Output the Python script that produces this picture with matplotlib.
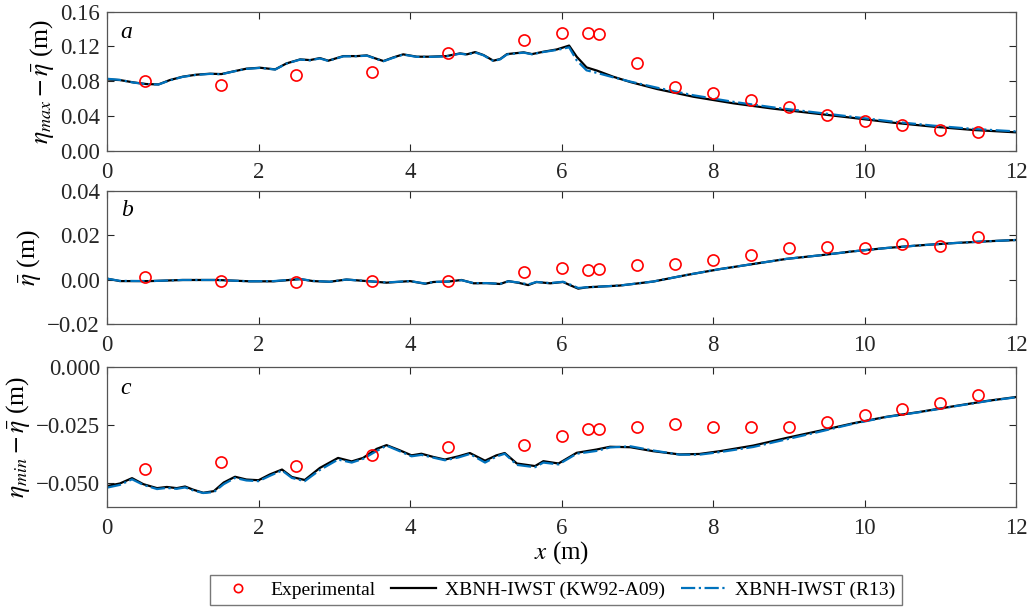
import matplotlib
matplotlib.use("Agg")
import matplotlib.pyplot as plt
from matplotlib.lines import Line2D

plt.rcParams["font.family"] = ["Liberation Serif", "DejaVu Serif"]
plt.rcParams["mathtext.fontset"] = "stix"

# experimental gauge positions (m)
x_exp = [0.5, 1.5, 2.5, 3.5, 4.5, 5.5, 6.0, 6.35, 6.5, 7.0, 7.5, 8.0, 8.5,
         9.0, 9.5, 10.0, 10.5, 11.0, 11.5]

# panel a: eta_max - mean
exp_a = [0.0806, 0.0753, 0.0868, 0.0902, 0.112, 0.1274, 0.1358, 0.1351, 0.1346,
         0.1009, 0.0736, 0.0667, 0.0583, 0.0503, 0.0414, 0.0345, 0.0296, 0.0238, 0.0212]
x_a = [0, 0.17, 0.35, 0.52, 0.68, 0.83, 1.0, 1.18, 1.36, 1.51, 1.67, 1.84, 2.02,
       2.22, 2.37, 2.55, 2.68, 2.81, 2.92, 3.12, 3.30, 3.43, 3.54, 3.65, 3.78,
       3.91, 4.09, 4.26, 4.48, 4.66, 4.75, 4.86, 4.97, 5.10, 5.19, 5.28, 5.50,
       5.61, 5.76, 5.94, 6.10, 6.20, 6.33, 6.47, 6.68, 6.91, 7.26, 7.74, 8.27,
       8.80, 9.33, 9.86, 10.38, 10.91, 11.44, 12.0]
kw_a = [0.0820, 0.0813, 0.0786, 0.0767, 0.0763, 0.0813, 0.0852, 0.0875, 0.0886,
        0.0882, 0.0913, 0.0944, 0.0955, 0.0936, 0.1005, 0.1051, 0.1043, 0.1066,
        0.1036, 0.1089, 0.1089, 0.1097, 0.1063, 0.1032, 0.1074, 0.1109, 0.1082,
        0.1082, 0.1089, 0.1120, 0.1109, 0.1135, 0.1101, 0.1036, 0.1055, 0.1112,
        0.1132, 0.1112, 0.1139, 0.1166, 0.1210, 0.1082, 0.0959, 0.0921, 0.0852,
        0.0790, 0.0710, 0.0621, 0.0545, 0.0483, 0.0430, 0.0376, 0.0322, 0.0276,
        0.0238, 0.0211]
r13_a = [0.0828, 0.0815, 0.0784, 0.0765, 0.0762, 0.0810, 0.0850, 0.0873, 0.0884,
         0.0880, 0.0912, 0.0942, 0.0953, 0.0934, 0.1003, 0.1049, 0.1040, 0.1062,
         0.1034, 0.1086, 0.1087, 0.1094, 0.1060, 0.1030, 0.1070, 0.1106, 0.1080,
         0.1080, 0.1086, 0.1117, 0.1106, 0.1131, 0.1098, 0.1032, 0.1052, 0.1108,
         0.1129, 0.1110, 0.1136, 0.1160, 0.1190, 0.1040, 0.0925, 0.0895, 0.0845,
         0.0795, 0.0725, 0.0638, 0.0562, 0.0498, 0.0443, 0.0388, 0.0334, 0.0288,
         0.0250, 0.0222]

# panel b: mean water level
exp_b = [0.0013, -0.0005, -0.0011, -0.0008, -0.0005, 0.0036, 0.0053, 0.0043, 0.0048,
         0.0064, 0.0070, 0.0089, 0.0112, 0.0140, 0.0148, 0.0142, 0.0161, 0.0150, 0.0192]
x_b = [0, 0.17, 0.57, 1.0, 1.45, 1.89, 2.2, 2.55, 2.72, 2.94, 3.16, 3.43, 3.69,
       4.0, 4.2, 4.31, 4.51, 4.68, 4.84, 5.01, 5.19, 5.30, 5.45, 5.56, 5.67,
       5.85, 6.02, 6.11, 6.22, 6.33, 6.77, 7.21, 7.66, 8.09, 8.53, 8.97, 9.41,
       9.85, 10.29, 10.73, 11.17, 11.61, 12.0]
kw_b = [0.0004, -0.0007, -0.0007, -0.0002, -0.0002, -0.0008, -0.0008, 0.0002,
        -0.0007, -0.0010, 0.0000, -0.0007, -0.0014, -0.0007, -0.0019, -0.0011,
        -0.0009, -0.0002, -0.0017, -0.0016, -0.0020, -0.0007, -0.0016, -0.0025,
        -0.0011, -0.0017, -0.0011, -0.0025, -0.0041, -0.0035, -0.0027, -0.0009,
        0.0021, 0.0047, 0.0070, 0.0093, 0.0109, 0.0127, 0.0142, 0.0154, 0.0164,
        0.0172, 0.0178]
r13_b = [0.0004, -0.0006, -0.0007, -0.0002, -0.0002, -0.0008, -0.0007, 0.0002,
         -0.0006, -0.0010, 0.0000, -0.0007, -0.0013, -0.0007, -0.0018, -0.0011,
         -0.0009, -0.0003, -0.0016, -0.0016, -0.0019, -0.0008, -0.0014, -0.0022,
         -0.0011, -0.0016, -0.0010, -0.0022, -0.0038, -0.0035, -0.0027, -0.0009,
         0.0021, 0.0047, 0.0070, 0.0093, 0.0109, 0.0127, 0.0142, 0.0154, 0.0164,
         0.0172, 0.0178]

# panel c: eta_min - mean
exp_c = [-0.0436, -0.0408, -0.0423, -0.0378, -0.0345, -0.0334, -0.0294, -0.0265, -0.0265,
         -0.0256, -0.0243, -0.0256, -0.0256, -0.0256, -0.0236, -0.0207, -0.0179, -0.0155, -0.0120]
x_c = [0, 0.17, 0.33, 0.48, 0.66, 0.79, 0.92, 1.03, 1.14, 1.27, 1.41, 1.54, 1.69,
       1.84, 2.0, 2.15, 2.31, 2.44, 2.61, 2.81, 3.05, 3.23, 3.38, 3.56, 3.69,
       3.87, 4.02, 4.15, 4.31, 4.46, 4.64, 4.79, 4.99, 5.14, 5.25, 5.41, 5.65,
       5.76, 5.96, 6.2, 6.46, 6.64, 6.91, 7.21, 7.56, 7.82, 8.09, 8.53, 8.97,
       9.41, 9.85, 10.29, 10.73, 11.17, 11.61, 12.0]
kw_c = [-0.0511, -0.0500, -0.0477, -0.0503, -0.0520, -0.0515, -0.0520, -0.0513,
        -0.0527, -0.0540, -0.0533, -0.0496, -0.0471, -0.0483, -0.0486, -0.0461,
        -0.0440, -0.0472, -0.0485, -0.0433, -0.0390, -0.0405, -0.0390, -0.0351,
        -0.0335, -0.0358, -0.0379, -0.0372, -0.0386, -0.0397, -0.0383, -0.0369,
        -0.0402, -0.0379, -0.0369, -0.0414, -0.0425, -0.0404, -0.0414, -0.0368,
        -0.0354, -0.0342, -0.0344, -0.0361, -0.0375, -0.0373, -0.0361, -0.0337,
        -0.0304, -0.0273, -0.0241, -0.0213, -0.0192, -0.0168, -0.0145, -0.0128]
r13_c = [-0.0518, -0.0506, -0.0482, -0.0506, -0.0524, -0.0519, -0.0523, -0.0517,
         -0.0530, -0.0541, -0.0537, -0.0503, -0.0476, -0.0487, -0.0490, -0.0467,
         -0.0444, -0.0476, -0.0490, -0.0442, -0.0397, -0.0410, -0.0394, -0.0360,
         -0.0337, -0.0362, -0.0383, -0.0377, -0.0389, -0.0400, -0.0388, -0.0373,
         -0.0410, -0.0384, -0.0372, -0.0420, -0.0430, -0.0410, -0.0418, -0.0372,
         -0.0360, -0.0345, -0.0340, -0.0358, -0.0376, -0.0376, -0.0365, -0.0343,
         -0.0310, -0.0277, -0.0243, -0.0214, -0.0193, -0.0169, -0.0146, -0.0129]

panels = [
    ("a", x_a, kw_a, r13_a, exp_a, (0, 0.16), [0, 0.04, 0.08, 0.12, 0.16], "%.2f",
     r"$\eta_{max}-\bar{\eta}$ (m)"),
    ("b", x_b, kw_b, r13_b, exp_b, (-0.02, 0.04), [-0.02, 0, 0.02, 0.04], "%.2f",
     r"$\bar{\eta}$ (m)"),
    ("c", x_c, kw_c, r13_c, exp_c, (-0.06, 0), [-0.05, -0.025, 0], "%.3f",
     r"$\eta_{min}-\bar{\eta}$ (m)"),
]

blue = "#0072BD"
fig = plt.figure(figsize=(10.35, 6.1), dpi=100)
boxes = [(0.1034, 0.753, 0.8783, 0.2278),
         (0.1034, 0.4689, 0.8783, 0.2185),
         (0.1034, 0.1693, 0.8783, 0.2286)]

for (tag, xm, kw, r13, ex, ylim, yt, fmt, ylab), box in zip(panels, boxes):
    ax = fig.add_axes(box)
    ax.plot(xm, kw, color="black", lw=1.6)
    ax.plot(xm, r13, color=blue, lw=1.6, ls="-.")
    ax.plot(x_exp, ex, "o", mfc="none", mec="red", ms=8, mew=1.2)
    ax.set_xlim(0, 12)
    ax.set_ylim(*ylim)
    ax.set_xticks(range(0, 13, 2))
    ax.set_yticks(yt)
    ax.set_yticklabels([(fmt % v).replace("-", "\u2212") for v in yt])
    ax.tick_params(direction="in", top=True, right=True, labelsize=16.5,
                   length=5, width=0.8, colors="#262626")
    ax.tick_params(axis="x", pad=8)
    ax.tick_params(axis="y", pad=5)
    for s in ax.spines.values():
        s.set_color("#555555")
        s.set_linewidth(0.9)
    ax.set_ylabel(ylab, fontsize=18.5, labelpad=3)
    ax.text(0.015, 0.85, tag, transform=ax.transAxes, fontsize=17,
            style="italic", va="center")
    if tag == "c":
        ax.set_xlabel(r"$x$ (m)", fontsize=18, labelpad=0)

handles = [
    Line2D([], [], ls="none", marker="o", mfc="none", mec="red", ms=6, mew=1.2),
    Line2D([], [], color="black", lw=1.6),
    Line2D([], [], color=blue, lw=1.6, ls="-."),
]
fig.legend(handles, ["Experimental", "XBNH-IWST (KW92-A09)", "XBNH-IWST (R13)"],
           loc="center", bbox_to_anchor=(0.537, 0.033), ncol=3, fontsize=14,
           frameon=True, fancybox=False, edgecolor="#555555", handlelength=2.3,
           columnspacing=0.8, handletextpad=0.5, borderpad=0.3)

fig.savefig("out.png", dpi=100)
